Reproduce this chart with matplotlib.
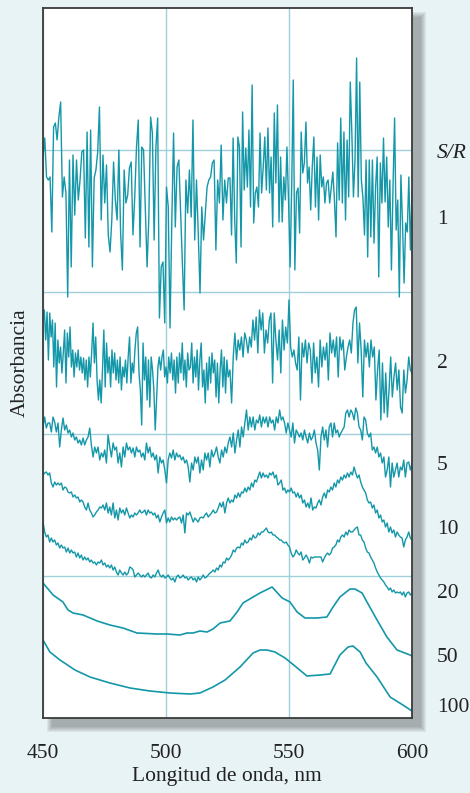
import numpy as np
import matplotlib.pyplot as plt
from matplotlib.patches import Rectangle

# Espectros con distinta relación S/R (unidades arbitrarias, desplazados)
sr1_left = [561, 580, 541, 538, 541, 486, 591, 595, 578, 601, 616, 521, 541, 525, 421, 558, 451, 563, 503, 558,
            518, 538, 566, 568, 480, 586, 471, 588, 451, 540, 548, 566, 611, 498, 563, 515, 553, 483, 466, 498,
            556, 518, 498, 568, 485, 448, 548, 515, 523, 550, 556, 483, 521, 571, 598, 471, 571, 568, 511, 451,
            501, 601, 585, 478, 571, 600, 400, 451, 456, 395, 531, 511, 390, 495, 585, 491, 551, 558, 505, 455,
            408, 538, 505, 548, 501, 598, 478, 538, 485, 425, 511, 478, 505, 531, 538, 541, 555, 558, 468, 538,
            515, 573, 498, 538, 515, 540]
sr1_right = [540, 483, 580, 498, 455, 581, 571, 471, 606, 528, 570, 531, 588, 511, 633, 495, 525, 531, 511, 585,
             525, 551, 581, 528, 590, 525, 561, 491, 605, 535, 613, 496, 561, 496, 541, 518, 571, 518, 451, 531,
             638, 448, 525, 530, 485, 586, 545, 555, 596, 535, 551, 508, 551, 581, 511, 561, 498, 563, 531, 541,
             515, 535, 538, 515, 531, 546, 518, 481, 575, 518, 600, 515, 586, 498, 578, 521, 636, 585, 521, 558,
             660, 521, 636, 538, 520, 483, 558, 461, 558, 481, 558, 475, 531, 561, 441, 555, 515, 580, 516, 561,
             491, 538, 448, 530, 600, 488, 518, 421, 543, 495, 435, 495, 486, 541, 468, 528]

sr2_left = [396, 408, 378, 406, 358, 405, 381, 398, 351, 395, 331, 378, 355, 371, 345, 365, 388, 335, 385, 361,
            391, 351, 368, 341, 365, 351, 368, 348, 361, 345, 360, 338, 358, 331, 361, 341, 366, 395, 355, 381,
            338, 318, 338, 315, 348, 388, 331, 375, 345, 361, 331, 368, 345, 365, 338, 358, 335, 361, 328, 351,
            341, 358, 335, 361, 381, 335, 355, 345, 368, 385, 391, 345, 328, 293, 375, 338, 361, 318, 358, 311,
            361, 348, 328, 288, 318, 351, 361, 348, 361, 368, 341, 351, 335, 361, 345, 365, 338, 358, 325, 361,
            335, 365, 345, 375, 338, 358, 331, 365, 348, 351, 375, 335, 361, 341, 368, 328, 358, 375, 331, 348,
            315, 355, 328, 361, 335, 365, 345, 358, 321, 355, 315, 348, 368, 331, 361, 325, 358, 341]
sr2_right = [348, 315, 361, 385, 358, 378, 368, 381, 361, 385, 378, 365, 381, 371, 398, 378, 401, 365, 408, 388,
             405, 365, 388, 375, 398, 405, 335, 405, 378, 358, 388, 345, 398, 368, 391, 375, 418, 371, 361, 368,
             355, 348, 381, 318, 375, 361, 378, 355, 375, 368, 335, 375, 345, 361, 331, 378, 351, 371, 358, 375,
             338, 385, 365, 378, 361, 381, 341, 381, 368, 378, 348, 361, 371, 378, 365, 395, 408, 411, 355, 395,
             368, 321, 378, 361, 375, 351, 378, 361, 371, 318, 348, 368, 298, 355, 305, 345, 301, 328, 361, 321,
             341, 355, 328, 348, 311, 305, 348, 325, 338, 361, 348, 345]

sr5_left = [291, 301, 290, 295, 295, 286, 301, 296, 286, 295, 271, 288, 300, 288, 293, 285, 288, 281, 285, 278,
            281, 275, 278, 273, 280, 273, 278, 281, 290, 273, 261, 271, 265, 271, 258, 265, 261, 268, 255, 283,
            271, 261, 275, 268, 271, 255, 265, 251, 271, 261, 275, 268, 271, 265, 270, 261, 271, 266, 268, 261,
            265, 258, 275, 265, 271, 261, 265, 258, 263, 245, 261, 255, 258, 248, 235, 258, 265, 260, 268, 258,
            265, 261, 263, 258, 261, 255, 258, 251, 236, 255, 248, 261, 255, 261, 245, 258, 248, 265, 258, 265,
            251, 268, 261, 265, 271, 261, 255, 268, 261, 271, 265, 275]
sr5_right = [281, 271, 285, 265, 278, 288, 271, 291, 281, 295, 308, 288, 301, 291, 301, 288, 298, 295, 303, 291,
             301, 295, 301, 291, 301, 295, 298, 288, 301, 295, 308, 298, 301, 295, 285, 295, 288, 281, 295, 275,
             288, 285, 281, 285, 278, 288, 281, 275, 285, 278, 281, 288, 275, 268, 248, 281, 291, 278, 288, 271,
             291, 295, 281, 295, 285, 288, 281, 285, 288, 291, 305, 308, 301, 308, 305, 298, 310, 305, 291, 288,
             278, 301, 298, 285, 281, 285, 268, 271, 265, 271, 261, 265, 255, 261, 241, 248, 261, 231, 255, 241,
             248, 255, 241, 251, 248, 258, 241, 255, 256, 248, 255]

sr10_left = [243, 245, 246, 243, 245, 235, 231, 236, 233, 235, 233, 235, 228, 231, 230, 226, 225, 226, 221, 223,
             220, 221, 216, 218, 216, 211, 208, 215, 208, 205, 201, 203, 206, 208, 211, 210, 213, 208, 215, 205,
             211, 203, 215, 200, 208, 198, 210, 205, 208, 203, 210, 205, 200, 203, 201, 205, 203, 205, 208, 205,
             206, 208, 203, 208, 205, 206, 203, 205, 200, 203, 196, 201, 205, 208, 195, 200, 196, 201, 198, 200,
             198, 200, 201, 195, 203, 185, 205, 203, 206, 201, 196, 200, 198, 196, 200, 201, 200, 203, 205, 201,
             203, 205, 208, 205, 206, 210, 215, 211, 216, 205, 215, 220]
sr10_right = [215, 218, 216, 223, 220, 225, 221, 226, 225, 230, 226, 231, 228, 235, 231, 238, 236, 241, 246, 240,
              245, 241, 243, 240, 245, 243, 246, 240, 243, 233, 235, 238, 228, 230, 225, 228, 226, 230, 225, 226,
              221, 225, 220, 223, 215, 218, 211, 215, 210, 220, 208, 211, 210, 215, 218, 213, 221, 225, 220, 228,
              226, 231, 228, 235, 231, 238, 235, 241, 238, 243, 240, 245, 241, 246, 243, 251, 245, 240, 243, 236,
              231, 228, 225, 218, 215, 216, 210, 213, 205, 208, 200, 203, 196, 198, 191, 195, 186, 191, 185, 188,
              181, 186, 183, 181, 180, 171, 178, 181, 186, 180, 178]

sr20_left = [196, 186, 181, 183, 176, 180, 176, 178, 173, 175, 170, 173, 170, 171, 166, 170, 165, 168, 165, 166,
             161, 165, 160, 163, 158, 161, 158, 160, 156, 158, 155, 156, 153, 156, 155, 158, 153, 155, 151, 153,
             150, 153, 148, 151, 146, 143, 148, 145, 143, 146, 143, 145, 151, 150, 148, 141, 143, 145, 143, 141,
             143, 141, 143, 145, 141, 140, 143, 141, 145, 148, 143, 141, 143, 140, 141, 143, 140, 138, 140, 136,
             141, 143, 140, 141, 143, 140, 141, 138, 140, 141, 138, 140, 136, 141, 138, 140, 143, 140, 141, 143,
             145, 146, 148, 146, 150, 148, 153, 151, 156, 155, 160, 158]
sr20_right = [160, 163, 168, 166, 170, 171, 170, 175, 173, 178, 175, 176, 180, 178, 183, 180, 181, 185, 183, 186,
              186, 188, 190, 186, 185, 186, 183, 183, 181, 180, 178, 178, 176, 175, 176, 173, 171, 165, 161, 163,
              168, 165, 163, 166, 158, 160, 163, 160, 155, 161, 160, 161, 161, 161, 161, 161, 156, 160, 163, 165,
              163, 165, 170, 171, 173, 178, 176, 181, 183, 181, 186, 183, 188, 186, 186, 188, 190, 191, 183, 183,
              178, 176, 170, 166, 165, 161, 158, 155, 150, 146, 143, 140, 138, 136, 133, 131, 128, 130, 126, 128,
              125, 126, 125, 126, 123, 126, 121, 125, 126, 123, 125]

sr50_wl = [450.0, 454.1, 458.1, 460.2, 462.2, 466.3, 472.0, 477.2, 482.5, 488.2, 496.3, 500.4, 505.7, 508.5,
           511.0, 513.8, 516.7, 519.1, 522.0, 526.0, 528.9, 531.3, 535.4, 538.2, 543.1, 547.2, 550.4, 553.3,
           556.5, 561.4, 565.4, 567.9, 570.7, 574.8, 576.8, 579.7, 581.7, 585.8, 589.8, 593.9, 599.2, 600.0]
sr50 = [135, 123, 116, 108, 105, 103, 97, 93, 90, 85, 84, 84, 83, 85, 85, 87, 86, 89, 95, 97, 106,
        115, 121, 125, 131, 120, 116, 106, 100, 100, 101, 111, 121, 129, 129, 125, 116, 98, 81, 68, 63, 62]

sr100_wl = [450.0, 452.8, 456.9, 463.0, 469.1, 477.2, 485.4, 493.5, 501.6, 509.8, 513.8, 519.1, 524.0, 530.1,
            535.4, 538.2, 541.1, 544.3, 548.4, 552.4, 557.3, 562.6, 566.7, 570.7, 574.0, 576.0, 578.9, 581.3,
            585.8, 591.1, 596.3, 600.0]
sr100 = [78, 66, 58, 48, 41, 35, 30, 27, 25, 24, 25, 31, 38, 51, 65, 68, 68, 66, 60, 52, 42, 43, 44,
         63, 71, 72, 66, 55, 41, 21, 13, 7]

sr_labels = ['1', '2', '5', '10', '20', '50', '100']
label_pos = [498, 355, 252, 188, 125, 61, 10]

color = '#1497a8'
fondo = '#e8f3f6'
texto = '#222222'
serif = ['Liberation Serif', 'DejaVu Serif']


def spectrum(left, right):
    wl = np.concatenate([np.linspace(450, 525.3, len(left)),
                         np.linspace(526, 600, len(right))])
    return wl, np.array(left + right)


fig = plt.figure(figsize=(4.7, 7.93), dpi=100, facecolor=fondo)
x0, x1 = 43 / 470, 412 / 470
y0, y1 = 1 - 718 / 793, 1 - 8 / 793
ax = fig.add_axes([x0, y0, x1 - x0, y1 - y0])

# sombra difusa
for k in range(6):
    g = k / 470
    gy = k / 793
    fig.patches.append(Rectangle((x0 + 9 / 470 - g, y0 - 9 / 793 - gy), x1 - x0 + 2 * g, y1 - y0 + 2 * gy,
                                 transform=fig.transFigure, facecolor='#555555', alpha=0.09,
                                 edgecolor='none', zorder=-5))

for left, right in [(sr1_left, sr1_right), (sr2_left, sr2_right), (sr5_left, sr5_right),
                    (sr10_left, sr10_right), (sr20_left, sr20_right)]:
    wl, a = spectrum(left, right)
    ax.plot(wl, a, color=color, lw=1.0)
ax.plot(sr50_wl, sr50, color=color, lw=1.2)
ax.plot(sr100_wl, sr100, color=color, lw=1.2)

ax.set_xlim(450, 600)
ax.set_ylim(0, 710)
ax.set_xticks([450, 500, 550, 600])
ax.set_yticks([142, 284, 426, 568])
ax.set_yticklabels([])
ax.grid(True, color='#9fd0da', lw=1.0)
ax.tick_params(length=0, pad=19, labelsize=15.5, colors=texto)
for t in ax.get_xticklabels():
    t.set_family(serif)
for s in ax.spines.values():
    s.set_color('#3a3a3a')
    s.set_linewidth(1.3)

ax.text(1.068, 565, 'S/R', transform=ax.get_yaxis_transform(), fontsize=15.5, style='italic',
        family=serif, color=texto, va='center', ha='left', clip_on=False)
for lab, p in zip(sr_labels, label_pos):
    ax.text(1.068, p, lab, transform=ax.get_yaxis_transform(), fontsize=15.5, family=serif,
            color=texto, va='center', ha='left', clip_on=False)

fig.text(227 / 470, 1 - 777 / 793, 'Longitud de onda, nm', ha='center', va='center',
         fontsize=15.5, family=serif, color=texto)
fig.text(20 / 470, 1 - 363 / 793, 'Absorbancia', rotation=90, ha='center', va='center',
         fontsize=15.5, family=serif, color=texto)

fig.savefig('out.png', dpi=100, facecolor=fondo)
